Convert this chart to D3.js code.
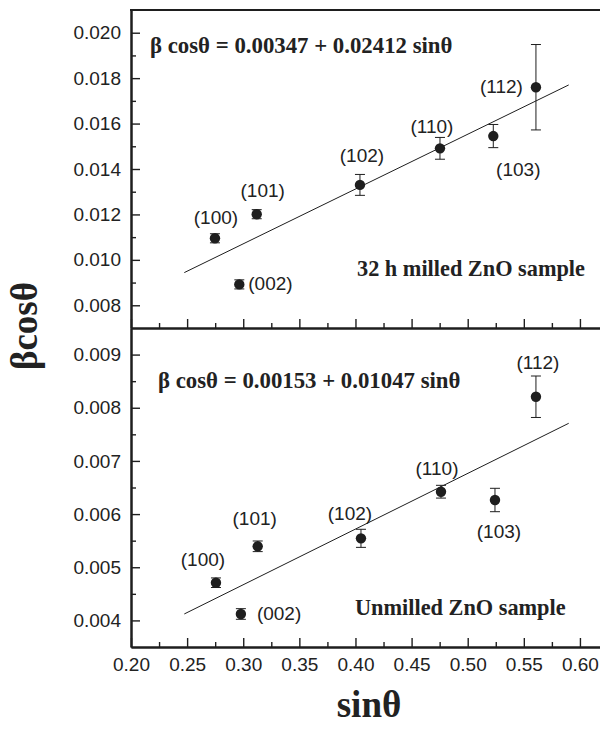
<!DOCTYPE html>
<meta charset="utf-8">
<script src="https://d3js.org/d3.v7.min.js"></script>
<body style="margin:0;background:#fff">
<div id="chart"></div>
</body>
<style>
.tick text { font-family: "Liberation Sans", Arial, sans-serif; font-size: 19px; fill: #222; }
.hkl { font-family: "Liberation Sans", Arial, sans-serif; font-size: 19px; fill: #222; }
.eq, .title { font-family: "Liberation Serif", "Times New Roman", serif; font-weight: bold; fill: #222; }
</style>
<script>
// Williamson-Hall data: reflections, sin(theta), beta*cos(theta) and error
var hkl = ["(100)", "(002)", "(101)", "(102)", "(110)", "(103)", "(112)"];

var sinMilled = [0.2748, 0.2965, 0.3120, 0.4040, 0.4753, 0.5228, 0.5608];
var bcMilled  = [0.01095, 0.00892, 0.01201, 0.01330, 0.01491, 0.01545, 0.01760];
var errMilled = [0.0002, 0.0002, 0.0002, 0.00046, 0.00048, 0.00051, 0.00188];

var sinUnmilled = [0.2757, 0.2979, 0.3129, 0.4049, 0.4762, 0.5243, 0.5608];
var bcUnmilled  = [0.004709, 0.004121, 0.005394, 0.005544, 0.006421, 0.006265, 0.008207];
var errUnmilled = [0.00009, 0.0001, 0.0001, 0.00017, 0.00012, 0.00022, 0.00039];

// linear fits: intercept, slope
var fitMilled = [0.00347, 0.02412];
var fitUnmilled = [0.00153, 0.01047];
var fitRange = [0.2475, 0.59];

var xMajor = d3.range(0.20, 0.6001, 0.05);
var xMinor = d3.range(0.225, 0.63, 0.05);
var yMajorTop = [0.008, 0.010, 0.012, 0.014, 0.016, 0.018, 0.020];
var yMinorTop = [0.009, 0.011, 0.013, 0.015, 0.017, 0.019];
var yMajorBot = [0.004, 0.005, 0.006, 0.007, 0.008, 0.009];
var yMinorBot = [0.0045, 0.0055, 0.0065, 0.0075, 0.0085];

// label placement around each point, pixels: [dx, dy, anchor]
var offTop = [[1, -14, "middle"], [9, 6, "start"], [6, -17, "middle"], [2, -23, "middle"],
              [-8, -15, "middle"], [25, 40, "middle"], [-13, 6, "end"]];
var offBot = [[-13, -17, "middle"], [16, 6, "start"], [-3, -21, "middle"], [-11, -18, "middle"],
              [-4, -17, "middle"], [4, 38, "middle"], [2, -28, "middle"]];

var W = 600, H = 729;
var svg = d3.select("#chart").append("svg").attr("width", W).attr("height", H);

var x = d3.scaleLinear().domain([0.2, 0.625]).range([131, 608]);
var yTop = d3.scaleLinear().domain([0.007, 0.021]).range([328, 10]);
var yBot = d3.scaleLinear().domain([0.0035, 0.0095]).range([647, 328]);

var ink = "#1e1e1e";

function drawPanel(y, sinv, bc, err, fit, off, eqText, name, nameY, eqPos, yMaj, yMin, bottomY, withLabels) {
  var g = svg.append("g");

  // y axis with inward ticks
  g.append("g").attr("transform", "translate(131,0)")
    .call(d3.axisLeft(y).tickValues(yMin).tickSize(-5).tickSizeOuter(0).tickFormat(""));
  g.append("g").attr("transform", "translate(131,0)")
    .call(d3.axisLeft(y).tickValues(yMaj).tickSize(-9).tickSizeOuter(0).tickPadding(10).tickFormat(d3.format(".3f")));

  // x axis along the panel bottom
  g.append("g").attr("transform", "translate(0," + bottomY + ")")
    .call(d3.axisBottom(x).tickValues(xMinor).tickSize(-5).tickSizeOuter(0).tickFormat(""));
  g.append("g").attr("transform", "translate(0," + bottomY + ")")
    .call(d3.axisBottom(x).tickValues(xMajor).tickSize(-9).tickSizeOuter(0).tickPadding(11)
      .tickFormat(withLabels ? d3.format(".2f") : ""));

  g.selectAll(".domain").attr("stroke", ink).attr("stroke-width", 2);
  g.selectAll(".tick line").attr("stroke", ink).attr("stroke-width", 1.4);

  // fit line
  g.append("line")
    .attr("x1", x(fitRange[0])).attr("y1", y(fit[0] + fit[1] * fitRange[0]))
    .attr("x2", x(fitRange[1])).attr("y2", y(fit[0] + fit[1] * fitRange[1]))
    .attr("stroke", ink).attr("stroke-width", 1);

  var idx = d3.range(hkl.length);

  // error bars
  var eb = g.selectAll(".eb").data(idx).enter().append("g");
  eb.append("line")
    .attr("x1", function(i) { return x(sinv[i]); }).attr("x2", function(i) { return x(sinv[i]); })
    .attr("y1", function(i) { return y(bc[i] - err[i]); }).attr("y2", function(i) { return y(bc[i] + err[i]); })
    .attr("stroke", ink).attr("stroke-width", 1);
  [-1, 1].forEach(function(s) {
    eb.append("line")
      .attr("x1", function(i) { return x(sinv[i]) - 5; }).attr("x2", function(i) { return x(sinv[i]) + 5; })
      .attr("y1", function(i) { return y(bc[i] + s * err[i]); }).attr("y2", function(i) { return y(bc[i] + s * err[i]); })
      .attr("stroke", ink).attr("stroke-width", 1);
  });

  // points
  g.selectAll(".pt").data(idx).enter().append("circle")
    .attr("cx", function(i) { return x(sinv[i]); })
    .attr("cy", function(i) { return y(bc[i]); })
    .attr("r", 5.2)
    .attr("fill", ink);

  // reflection labels
  g.selectAll(".hkl").data(idx).enter().append("text")
    .attr("class", "hkl")
    .attr("x", function(i) { return x(sinv[i]) + off[i][0]; })
    .attr("y", function(i) { return y(bc[i]) + off[i][1]; })
    .attr("text-anchor", function(i) { return off[i][2]; })
    .text(function(i) { return hkl[i]; });

  g.append("text").attr("class", "eq").attr("x", eqPos[0]).attr("y", eqPos[1])
    .style("font-size", "22.8px").text(eqText);
  g.append("text").attr("class", "eq").attr("x", name[1]).attr("y", nameY)
    .style("font-size", "22.3px").text(name[0]);
}

drawPanel(yTop, sinMilled, bcMilled, errMilled, fitMilled, offTop,
  "\u03b2 cos\u03b8 = 0.00347 + 0.02412 sin\u03b8", ["32 h milled ZnO sample", 357], 276,
  [150, 53], yMajorTop, yMinorTop, 328, false);

drawPanel(yBot, sinUnmilled, bcUnmilled, errUnmilled, fitUnmilled, offBot,
  "\u03b2 cos\u03b8 = 0.00153 + 0.01047 sin\u03b8", ["Unmilled ZnO sample", 355], 615,
  [158, 388], yMajorBot, yMinorBot, 647, true);

// top frame edge
svg.append("line").attr("x1", 130).attr("x2", 610).attr("y1", 10).attr("y2", 10)
  .attr("stroke", ink).attr("stroke-width", 2);

// axis titles
svg.append("text").attr("class", "title")
  .attr("x", 369).attr("y", 717).attr("text-anchor", "middle")
  .style("font-size", "37px").text("sin\u03b8");
svg.append("text").attr("class", "title")
  .attr("transform", "translate(37,326) rotate(-90)").attr("text-anchor", "middle")
  .style("font-size", "37px").text("\u03b2cos\u03b8");
</script>
